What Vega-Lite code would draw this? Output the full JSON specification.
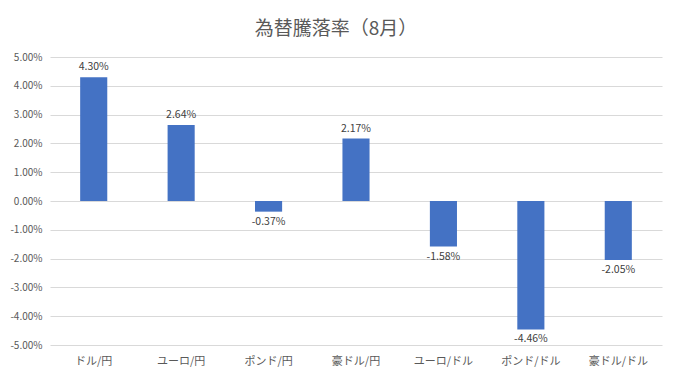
{
  "$schema": "https://vega.github.io/schema/vega-lite/v6.json",
  "autosize": {"type": "none"},
  "width": 612,
  "height": 288,
  "padding": {"left": 50, "top": 57, "right": 13, "bottom": 38},
  "background": "white",
  "title": {
    "text": "為替騰落率（8月）",
    "font": "Noto Sans CJK JP",
    "fontSize": 19,
    "fontWeight": "normal",
    "color": "#595959",
    "anchor": "middle",
    "offset": 13,
    "dx": -20
  },
  "config": {
    "view": {"stroke": null},
    "font": "Noto Sans CJK JP",
    "locale": {
      "number": {
        "decimal": ".",
        "thousands": ",",
        "grouping": [3],
        "currency": ["$", ""],
        "minus": "-"
      }
    }
  },
  "data": {
    "values": [
      {"pair": "ドル/円", "v": 0.0430},
      {"pair": "ユーロ/円", "v": 0.0264},
      {"pair": "ポンド/円", "v": -0.0037},
      {"pair": "豪ドル/円", "v": 0.0217},
      {"pair": "ユーロ/ドル", "v": -0.0158},
      {"pair": "ポンド/ドル", "v": -0.0446},
      {"pair": "豪ドル/ドル", "v": -0.0205}
    ]
  },
  "encoding": {
    "x": {
      "field": "pair",
      "type": "nominal",
      "sort": null,
      "scale": {"paddingInner": 0, "paddingOuter": 0},
      "axis": {
        "title": null,
        "labelAngle": 0,
        "domain": false,
        "ticks": false,
        "labelPadding": 10,
        "labelFontSize": 11,
        "labelColor": "#595959",
        "labelFont": "Noto Sans CJK JP"
      }
    },
    "y": {
      "field": "v",
      "type": "quantitative",
      "scale": {"domain": [-0.05, 0.05], "nice": false},
      "axis": {
        "title": null,
        "values": [-0.05, -0.04, -0.03, -0.02, -0.01, 0, 0.01, 0.02, 0.03, 0.04, 0.05],
        "format": ".2%",
        "domain": false,
        "ticks": false,
        "labelPadding": 8,
        "labelFontSize": 10,
        "labelColor": "#595959",
        "labelFont": "Noto Sans CJK JP",
        "gridColor": "#d9d9d9",
        "gridWidth": 1
      }
    }
  },
  "layer": [
    {
      "mark": {"type": "bar", "color": "#4472C4", "width": {"band": 0.31}}
    },
    {
      "transform": [{"filter": "datum.v >= 0"}],
      "mark": {"type": "text", "baseline": "bottom", "dy": -5, "fontSize": 10.5, "color": "#404040", "font": "Noto Sans CJK JP"},
      "encoding": {"text": {"field": "v", "type": "quantitative", "format": ".2%"}}
    },
    {
      "transform": [{"filter": "datum.v < 0"}],
      "mark": {"type": "text", "baseline": "top", "dy": 5, "fontSize": 10.5, "color": "#404040", "font": "Noto Sans CJK JP"},
      "encoding": {"text": {"field": "v", "type": "quantitative", "format": ".2%"}}
    }
  ]
}
